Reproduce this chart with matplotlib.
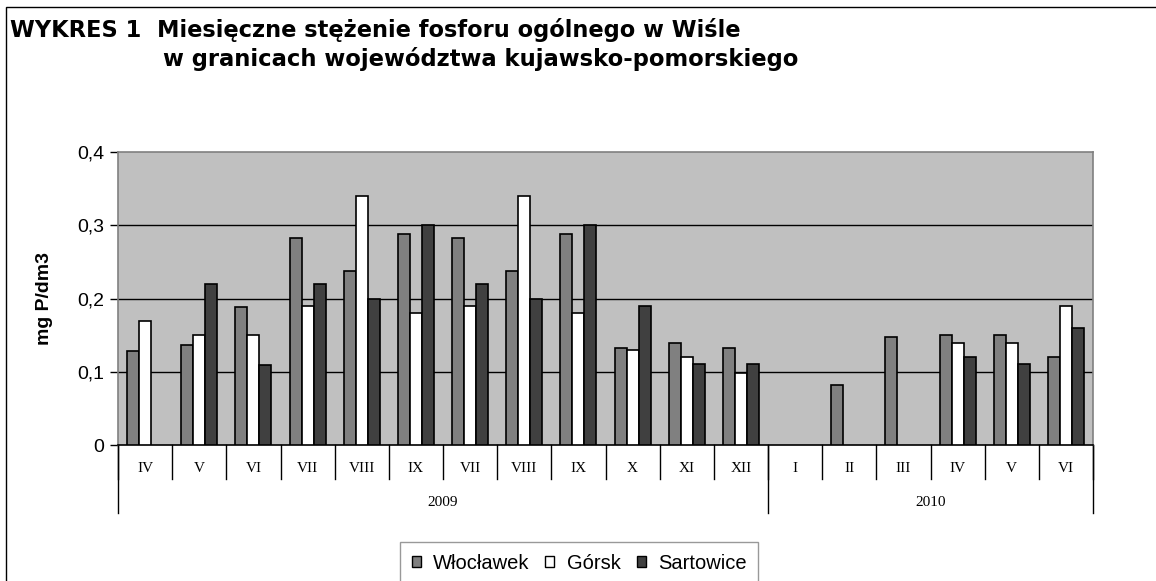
import numpy as np
import matplotlib
matplotlib.use("Agg")
import matplotlib.pyplot as plt
from matplotlib.patches import Rectangle, Patch
from matplotlib.lines import Line2D
import matplotlib.transforms as mtransforms

months = ["IV", "V", "VI", "VII", "VIII", "IX", "VII", "VIII", "IX", "X", "XI", "XII",
          "I", "II", "III", "IV", "V", "VI"]
years = ["2009", "2010"]
year_counts = [12, 6]
nan = np.nan
wloclawek = [0.128, 0.136, 0.188, 0.283, 0.237, 0.288, 0.283, 0.237, 0.288, 0.133, 0.139, 0.133,
             nan, 0.082, 0.147, 0.150, 0.150, 0.120]
gorsk = [0.169, 0.150, 0.150, 0.190, 0.340, 0.180, 0.190, 0.340, 0.180, 0.130, 0.120, 0.098,
         nan, nan, nan, 0.139, 0.139, 0.190]
sartowice = [nan, 0.220, 0.109, 0.220, 0.200, 0.300, 0.220, 0.200, 0.300, 0.190, 0.110, 0.110,
             nan, nan, nan, 0.120, 0.110, 0.160]
series_names = ["Włocławek", "Górsk", "Sartowice"]
yticks = [0, 0.1, 0.2, 0.3, 0.4]
ytick_labels = ["0", "0,1", "0,2", "0,3", "0,4"]
title_line1 = "WYKRES 1  Miesięczne stężenie fosforu ogólnego w Wiśle"
title_line2 = "w granicach województwa kujawsko-pomorskiego"

plt.rcParams['font.family'] = ['Liberation Sans', 'DejaVu Sans']

W, H = 1156, 581
fig = plt.figure(figsize=(W / 100, H / 100), dpi=100)
fig.patch.set_facecolor("white")

# outer frame
fig.add_artist(Rectangle((6 / W, -0.05), 1.2, 1 - 7 / H + 0.05, transform=fig.transFigure,
                         fill=False, edgecolor="black", lw=1.0))

ax_l, ax_r, ax_t, ax_b = 118, 1093, 152, 445
ax = fig.add_axes([ax_l / W, 1 - ax_b / H, (ax_r - ax_l) / W, (ax_b - ax_t) / H])
ax.set_facecolor("#C0C0C0")

x = np.arange(len(months))
bw = 1 / 4.5
colors = ["#808080", "#FFFFFF", "#404040"]
for i, (vals, c) in enumerate(zip([wloclawek, gorsk, sartowice], colors)):
    ax.bar(x + (i - 1) * bw, vals, width=bw, color=c, edgecolor="black", linewidth=1.2, zorder=3,
           label=series_names[i])

ax.set_xlim(-0.5, len(months) - 0.5)
ax.set_ylim(0, 0.4)
ax.set_yticks(yticks)
ax.set_yticklabels(ytick_labels, fontsize=14)
ax.tick_params(axis="y", length=6, width=1, color="black", pad=4)
ax.set_xticks([])
for yv in yticks[1:-1]:
    ax.axhline(yv, color="black", lw=1.0, zorder=1)
for s in ["top", "right", "left"]:
    ax.spines[s].set_color("#808080")
    ax.spines[s].set_linewidth(1.2)
ax.spines["bottom"].set_color("black")
ax.spines["bottom"].set_linewidth(1.2)

ax.set_ylabel("mg P/dm3", fontsize=14, fontweight="bold")
ax.yaxis.set_label_coords(-(ax_l - 53) / (ax_r - ax_l), 0.5)

# two-level category axis
px = 1.0 / (ax_b - ax_t)  # one pixel in axes-y units
trans = mtransforms.blended_transform_factory(ax.transData, ax.transAxes)
for i in range(len(months) + 1):
    ax.add_line(Line2D([i - 0.5, i - 0.5], [0, -34 * px], transform=trans, color="black",
                       lw=1.0, clip_on=False))
for i, m in enumerate(months):
    ax.text(i, -24 * px, m, transform=trans, ha="center", va="center", fontsize=11,
            family="Liberation Serif")
start = 0
for yname, cnt in zip(years, year_counts):
    ax.add_line(Line2D([start - 0.5, start - 0.5], [0, -68 * px], transform=trans, color="black",
                       lw=1.0, clip_on=False))
    ax.text(start + (cnt - 1) / 2, -57 * px, yname, transform=trans, ha="center", va="center",
            fontsize=11, family="Liberation Serif")
    start += cnt
ax.add_line(Line2D([start - 0.5, start - 0.5], [0, -68 * px], transform=trans, color="black",
                   lw=1.0, clip_on=False))

# title (fitted to the width of the original, letter-spaced title)
t1 = fig.text(10 / W, 1 - 37 / H, title_line1, fontsize=14, fontweight="bold",
              family="DejaVu Sans", ha="left", va="baseline")
t2 = fig.text(163 / W, 1 - 66 / H, title_line2, fontsize=14, fontweight="bold",
              family="DejaVu Sans", ha="left", va="baseline")
renderer = fig.canvas.get_renderer()
for t, target in [(t1, 733), (t2, 637)]:
    w = t.get_window_extent(renderer).width
    t.set_fontsize(min(16.5, 14 * target / w))

# legend
handles = [Patch(facecolor=c, edgecolor="black", linewidth=1.0) for c in colors]
leg = fig.legend(handles, series_names, loc="upper center", bbox_to_anchor=(579 / W, 1 - 542 / H),
                 ncol=3, fontsize=14.5, frameon=True, fancybox=False, edgecolor="#808080",
                 handlelength=0.45, handleheight=0.45, handletextpad=0.6, columnspacing=0.8,
                 borderpad=0.6, borderaxespad=0)
leg.get_frame().set_linewidth(1.0)

fig.savefig("out.png", dpi=100, facecolor="white")
